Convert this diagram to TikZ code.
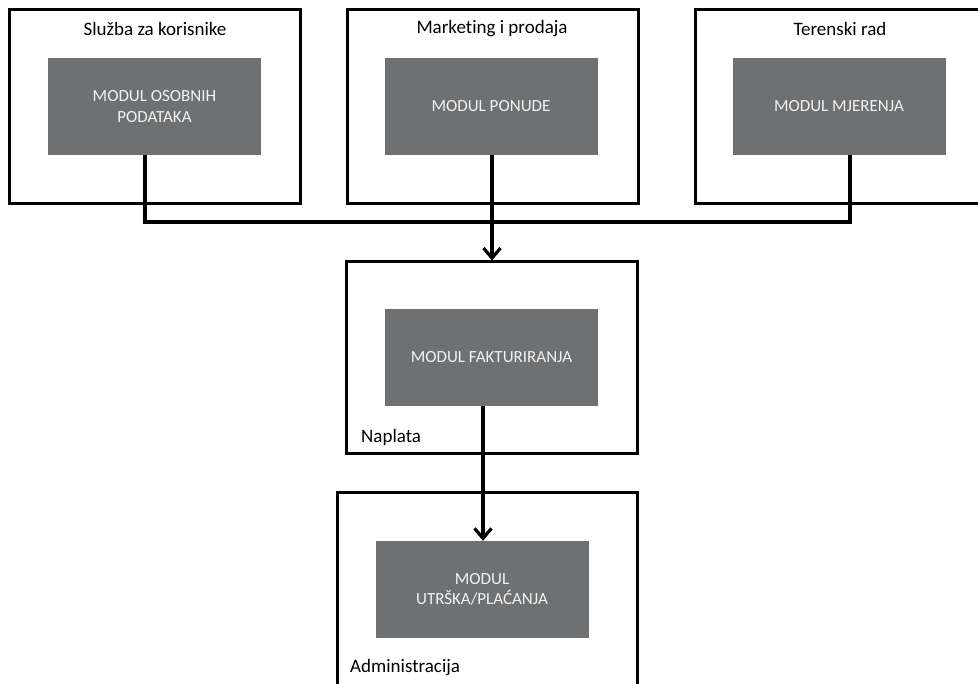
\documentclass[tikz,border=0pt]{standalone}
\usepackage{fontspec}
\setmainfont[Ligatures=NoCommon]{Carlito}
\usetikzlibrary{arrows.meta,positioning,calc}
\definecolor{Slate}{HTML}{6E7072}
\definecolor{Chalk}{HTML}{F2F2F2}
\tikzset{dept/.style={draw=black,line width=3pt,minimum width=291pt,minimum height=194pt,inner sep=0pt},modbox/.style={fill=Slate,minimum width=213pt,minimum height=97pt,align=center,text=Chalk,font=\fontsize{17}{20.5}\selectfont,inner sep=0pt},deptlab/.style={font=\fontsize{19}{22}\selectfont,inner sep=0pt},link/.style={line width=3.2pt,draw=black},flow/.style={link,-{Straight Barb[length=10pt,width=17pt,line width=3.2pt]}}}
\begin{document}
\begin{tikzpicture}[x=1pt,y=-1pt]
\useasboundingbox (0,0) rectangle (978,684);
\clip (0,0) rectangle (978,684);
\fill[white] (0,0) rectangle (978,684);
% odjeli
\node[dept] (B1) at (154.5,107) {};
\node[dept] (B2) at (492.5,107) {};
\node[dept,minimum width=289pt] (B3) at (839.5,107) {};
\node[dept,minimum height=192pt] (B4) at (492,358) {};
\node[dept,minimum width=300pt,minimum height=240pt] (B5) at (487,613) {};
\node[deptlab] (L1) at (155,29) {Služba za korisnike};
\node[deptlab] (L2) at (492,29) {Marketing i prodaja};
\node[deptlab] (L3) at (840,29) {Terenski rad};
\node[deptlab,anchor=west] (L4) at (361,437) {Naplata};
\node[deptlab,anchor=west] (L5) at (350,668) {Administracija};
% moduli
\node[modbox] (G1) at (154.5,106.5) {MODUL OSOBNIH\\PODATAKA};
\node[modbox] (G2) at (491,106.5) {MODUL PONUDE};
\node[modbox] (G3) at (839,106.5) {MODUL MJERENJA};
\node[modbox] (G4) at (491.5,357.5) {MODUL FAKTURIRANJA};
\node[modbox] (G5) at (482,589.5) {MODUL\\UTRŠKA/PLAĆANJA};
% veze
\coordinate (hub) at (492,222);
\draw[link] ([xshift=-9.5pt]G1.south) |- (hub) -| ([xshift=11pt]G3.south);
\draw[flow] ([xshift=1pt]G2.south) -- (B4.north);
\draw[flow] ([xshift=-8.5pt]G4.south) -- ([xshift=1pt]G5.north);
\end{tikzpicture}
\end{document}
